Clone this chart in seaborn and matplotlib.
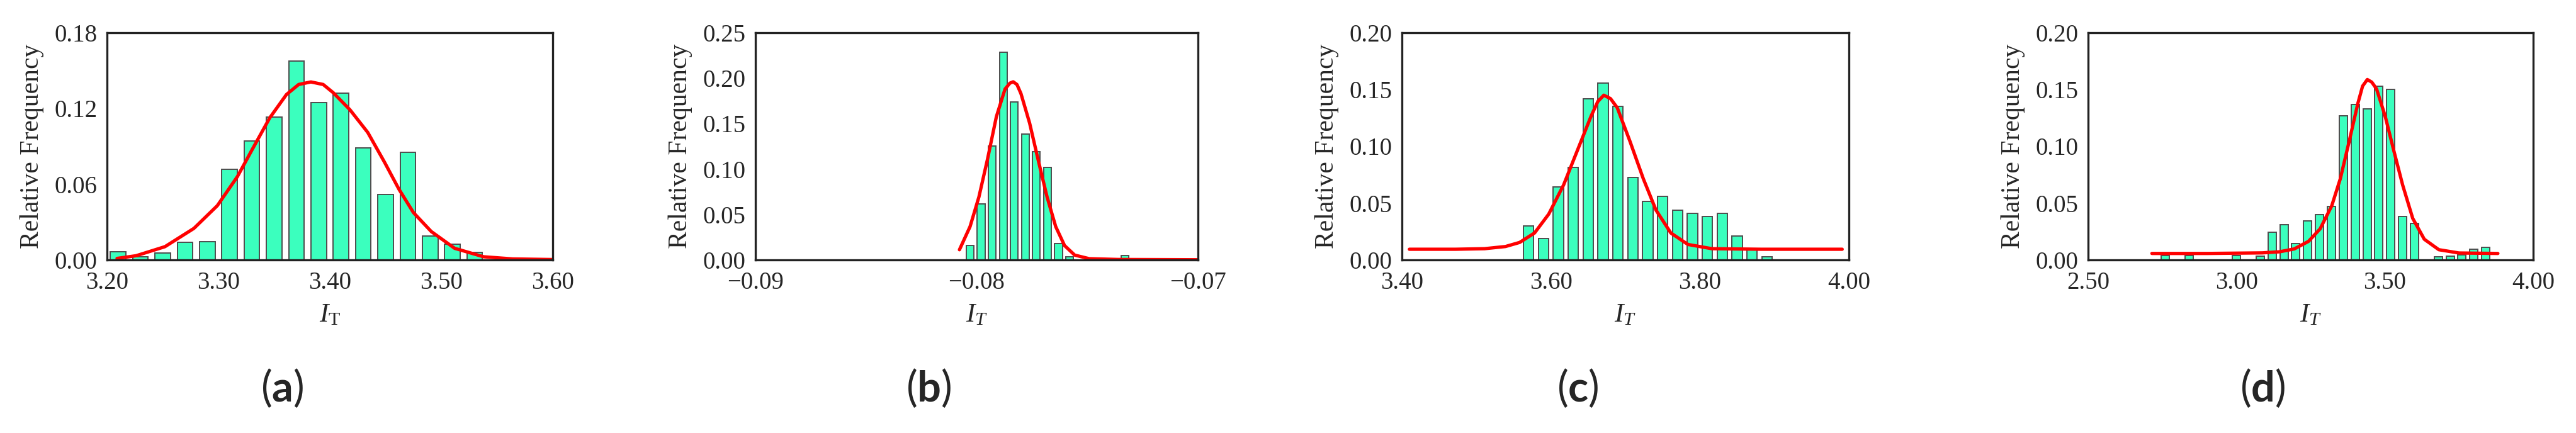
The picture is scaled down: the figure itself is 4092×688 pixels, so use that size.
import seaborn as sns
import matplotlib.pyplot as plt

# ---- data ----
# (a)
bins_a = [3.21, 3.23, 3.25, 3.27, 3.29, 3.31, 3.33, 3.35, 3.37, 3.39, 3.41, 3.43, 3.45, 3.47, 3.49, 3.51, 3.53]
freq_a = [0.0063, 0.0025, 0.0055, 0.0142, 0.0147, 0.0717, 0.0942, 0.1130, 0.1575, 0.1245, 0.1320, 0.0890, 0.0520, 0.0855, 0.0187, 0.0125, 0.0058]
fit_x_a = [3.209, 3.226, 3.252, 3.278, 3.299, 3.317, 3.330, 3.346, 3.361, 3.372, 3.383, 3.394, 3.403, 3.418, 3.434, 3.449, 3.462, 3.475, 3.491, 3.512, 3.538, 3.564, 3.600]
fit_y_a = [0.0012, 0.0033, 0.0105, 0.025, 0.043, 0.066, 0.087, 0.1125, 0.131, 0.139, 0.141, 0.139, 0.1325, 0.119, 0.101, 0.0775, 0.056, 0.0375, 0.0225, 0.0092, 0.0025, 0.0008, 0.0003]

# (b)
bins_b = [-0.0803, -0.0798, -0.0793, -0.0788, -0.0783, -0.0778, -0.0773, -0.0768, -0.0763, -0.0758, -0.0733]
freq_b = [0.0158, 0.0616, 0.1256, 0.2286, 0.1735, 0.1386, 0.1190, 0.1019, 0.0181, 0.0037, 0.0049]
fit_x_b = [-0.08078, -0.08030, -0.07990, -0.07951, -0.07911, -0.07872, -0.07850, -0.07835, -0.07818, -0.07800,
           -0.07761, -0.07721, -0.07682, -0.07643, -0.07603, -0.07557, -0.07492, -0.07361, -0.07000]
fit_y_b = [0.0112, 0.0367, 0.0693, 0.111, 0.1577, 0.188, 0.1945, 0.196, 0.193, 0.183,
           0.1507, 0.1088, 0.0693, 0.0367, 0.0158, 0.0053, 0.0014, 0.0005, 0.0002]

# (c)
bins_c = [3.57, 3.59, 3.61, 3.63, 3.65, 3.67, 3.69, 3.71, 3.73, 3.75, 3.77, 3.79, 3.81, 3.83, 3.85, 3.87, 3.89]
freq_c = [0.0301, 0.0189, 0.0645, 0.0816, 0.1417, 0.1555, 0.1351, 0.0728, 0.0517, 0.0562, 0.0439, 0.0412, 0.0384, 0.0412, 0.0210, 0.0086, 0.0028]
fit_x_c = [3.410, 3.472, 3.511, 3.539, 3.558, 3.578, 3.597, 3.617, 3.636, 3.654, 3.663, 3.671, 3.680, 3.689,
           3.706, 3.724, 3.741, 3.761, 3.784, 3.816, 3.882, 3.991]
fit_y_c = [0.0094, 0.0094, 0.0099, 0.0118, 0.0154, 0.0237, 0.0403, 0.066, 0.0972, 0.1267, 0.1395, 0.145, 0.142, 0.134,
           0.1046, 0.0715, 0.0439, 0.0237, 0.0136, 0.0099, 0.0094, 0.0094]

# (d)
bins_d = [2.76, 2.84, 3.00, 3.08, 3.12, 3.16, 3.20, 3.24, 3.28, 3.32, 3.36, 3.40, 3.44, 3.48, 3.52, 3.56, 3.60,
          3.68, 3.72, 3.76, 3.80, 3.84]
freq_d = [0.0039, 0.0039, 0.0039, 0.0035, 0.0246, 0.0310, 0.0145, 0.0342, 0.0399, 0.0472, 0.1267, 0.1366, 0.1329,
          0.1530, 0.1500, 0.0380, 0.0320, 0.0030, 0.0035, 0.0045, 0.0096, 0.0110]
fit_x_d = [2.715, 2.902, 3.087, 3.146, 3.195, 3.243, 3.282, 3.321, 3.350, 3.380, 3.409, 3.425, 3.441, 3.456,
           3.472, 3.501, 3.531, 3.560, 3.594, 3.633, 3.682, 3.750, 3.881]
fit_y_d = [0.0057, 0.0057, 0.0062, 0.0072, 0.0097, 0.0164, 0.0274, 0.0476, 0.0715, 0.1046, 0.1377, 0.153, 0.1588, 0.1565,
           0.1506, 0.1267, 0.0954, 0.066, 0.0366, 0.0182, 0.009, 0.0061, 0.0057]

xticks = {
    'a': [3.20, 3.30, 3.40, 3.50, 3.60],
    'b': [-0.09, -0.08, -0.07],
    'c': [3.40, 3.60, 3.80, 4.00],
    'd': [2.50, 3.00, 3.50, 4.00],
}
xtick_labels = {
    'a': ['3.20', '3.30', '3.40', '3.50', '3.60'],
    'b': ['\u22120.09', '\u22120.08', '\u22120.07'],
    'c': ['3.40', '3.60', '3.80', '4.00'],
    'd': ['2.50', '3.00', '3.50', '4.00'],
}
yticks = {
    'a': [0.00, 0.06, 0.12, 0.18],
    'b': [0.00, 0.05, 0.10, 0.15, 0.20, 0.25],
    'c': [0.00, 0.05, 0.10, 0.15, 0.20],
    'd': [0.00, 0.05, 0.10, 0.15, 0.20],
}
xlabels = {'a': r'$I_{\mathrm{T}}$', 'b': r'$I_T$', 'c': r'$I_T$', 'd': r'$I_T$'}

panels = [
    ('a', bins_a, freq_a, fit_x_a, fit_y_a),
    ('b', bins_b, freq_b, fit_x_b, fit_y_b),
    ('c', bins_c, freq_c, fit_x_c, fit_y_c),
    ('d', bins_d, freq_d, fit_x_d, fit_y_d),
]

# ---- style ----
sns.set_style("white")
plt.rcParams['font.family'] = ['Liberation Serif', 'DejaVu Serif']
plt.rcParams['mathtext.fontset'] = 'custom'
plt.rcParams['mathtext.rm'] = 'Liberation Serif'
plt.rcParams['mathtext.it'] = 'Liberation Serif:italic'
plt.rcParams['mathtext.bf'] = 'Lato:bold'

W, H = 4092, 688
fig = plt.figure(figsize=(W / 100, H / 100), dpi=100)

# axes boxes in pixels: left, width
boxes = {'a': (170, 708), 'b': (1200, 703), 'c': (2227, 710), 'd': (3317, 707)}
top_px, bot_px = 52, 413

for key, bins, freq, fx, fy in panels:
    left, width = boxes[key]
    ax = fig.add_axes([left / W, 1 - bot_px / H, width / W, (bot_px - top_px) / H])

    sns.barplot(ax=ax, x=bins, y=freq, native_scale=True, orient='x', errorbar=None,
                color='#3BFFBE', saturation=1, edgecolor='#4d4d4d', linewidth=1.4, width=0.69)
    sns.lineplot(ax=ax, x=fx, y=fy, color='#FF0000', linewidth=3.8, sort=False)

    xt = xticks[key]
    yt = yticks[key]
    ax.set_xlim(xt[0], xt[-1])
    ax.set_ylim(yt[0], yt[-1])
    ax.set_xticks(xt)
    ax.set_xticklabels(xtick_labels[key])
    ax.set_yticks(yt)
    ax.set_yticklabels([f'{v:.2f}' for v in yt])

    ax.tick_params(axis='y', direction='in', length=11, width=2, labelsize=28, pad=11, color='#222222')
    ax.tick_params(axis='x', length=0, labelsize=28, pad=13)
    for s in ax.spines.values():
        s.set_linewidth(2.4)
        s.set_color('#222222')
        s.set_visible(True)

    ax.set_ylabel('Relative Frequency', fontsize=30, labelpad=12)
    ax.set_xlabel(xlabels[key], fontsize=31, labelpad=10)
    ax.grid(False)

    cx = (left + width / 2 - 76) / W
    fig.text(cx, 1 - 617 / H, r'($\mathbf{' + key + '}$)', family='Lato', fontsize=48,
             ha='center', va='center')

fig.savefig('out.png', dpi=100)
